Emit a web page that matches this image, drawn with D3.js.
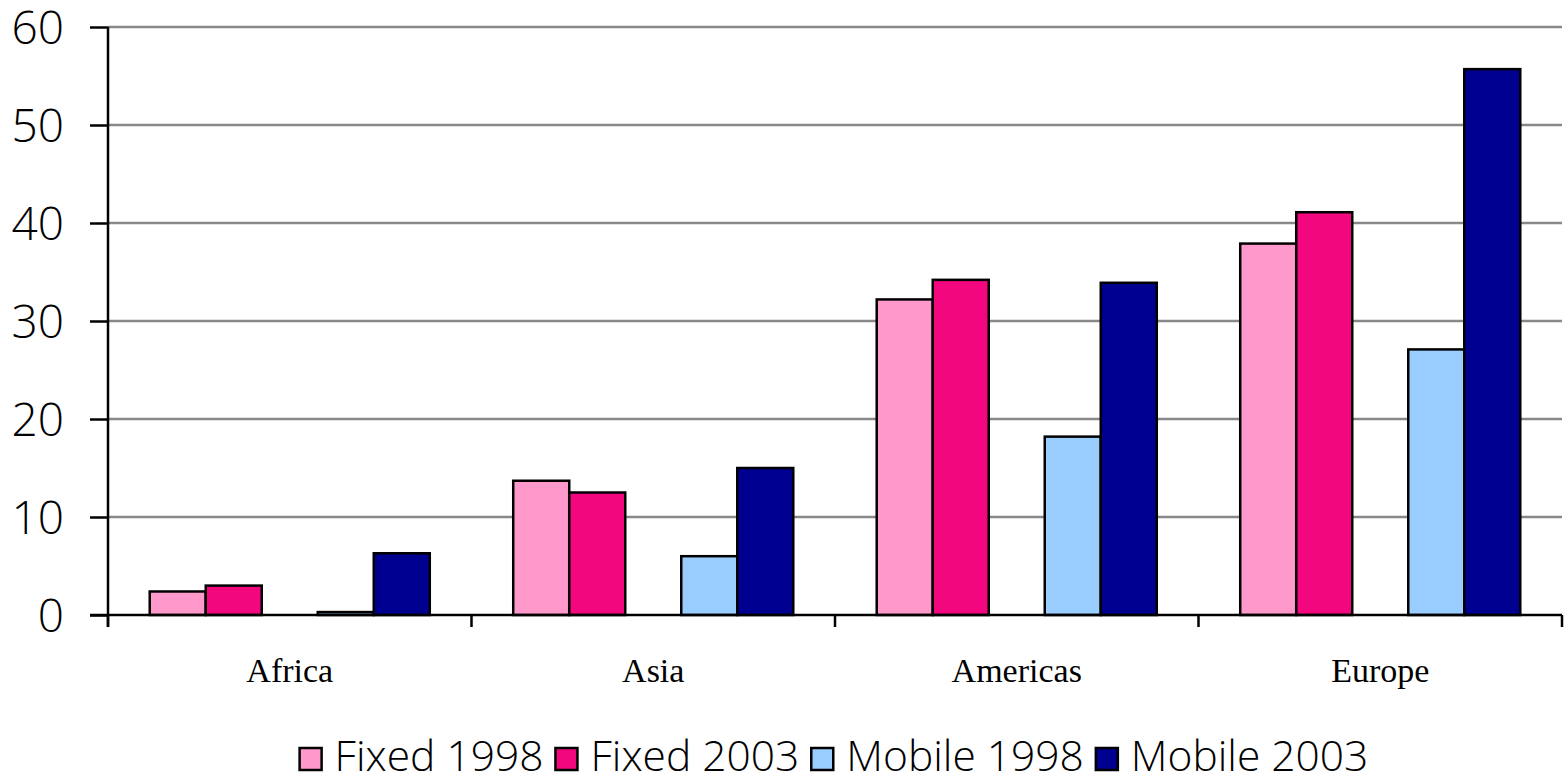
<!DOCTYPE html>
<html><head><meta charset="utf-8">
<script src="https://cdn.jsdelivr.net/npm/d3@7"></script>
<style>body{margin:0;background:#fff}svg{display:block}</style>
</head><body>
<svg id="c" width="1567" height="778"></svg>
<script>
const categories = ["Africa", "Asia", "Americas", "Europe"];
const seriesNames = ["Fixed 1998", "Fixed 2003", "Mobile 1998", "Mobile 2003"];
const fixed1998 = [2.4, 13.7, 32.2, 37.9];
const fixed2003 = [3.0, 12.5, 34.2, 41.1];
const mobile1998 = [0.3, 6.0, 18.2, 27.1];
const mobile2003 = [6.3, 15.0, 33.9, 55.7];
const yTicks = [0, 10, 20, 30, 40, 50, 60];
const colors = ["#FF99CC", "#F2077F", "#99CCFF", "#000090"];
const slots = [0, 1, 3, 4];
const seriesValues = [fixed1998, fixed2003, mobile1998, mobile2003];

const svg = d3.select("#c");
const L = 108, R = 1562, T = 27, B = 615;
const x = d3.scaleBand().domain(categories).range([L, R]).padding(0);
const xs = d3.scaleBand().domain([0,1,2,3,4]).range([0, x.bandwidth()]).paddingInner(0).paddingOuter(0.745);
const y = d3.scaleLinear().domain([0, 60]).range([B, T]);

const sans = "'Open Sans', 'DejaVu Sans', sans-serif";

// gridlines
svg.append("g").selectAll("line").data(yTicks.filter(d => d > 0)).join("line")
  .attr("x1", L).attr("x2", R).attr("y1", d => y(d)).attr("y2", d => y(d))
  .attr("stroke", "#888").attr("stroke-width", 2.5);

// bars
const g = svg.append("g");
seriesValues.forEach((vals, si) => {
  g.selectAll(null).data(vals).join("rect")
    .attr("x", (d, i) => x(categories[i]) + xs(slots[si]))
    .attr("width", xs.bandwidth())
    .attr("y", d => y(d))
    .attr("height", d => B - y(d))
    .attr("fill", colors[si])
    .attr("stroke", "#000").attr("stroke-width", 2.5);
});

// y axis
const yAxis = d3.axisLeft(y).tickValues(yTicks).tickSize(18).tickPadding(26).tickFormat(d3.format("d"));
const ya = svg.append("g").attr("transform", `translate(${L},0)`).call(yAxis);
ya.select(".domain").remove();
ya.selectAll(".tick line").attr("stroke", "#000").attr("stroke-width", 2.5);
ya.selectAll(".tick text").attr("font-family", sans).attr("font-weight", 300).attr("font-size", 46).attr("fill", "#000").attr("dy", "0.35em");
svg.append("line").attr("x1", L).attr("x2", L).attr("y1", T).attr("y2", B + 12).attr("stroke", "#000").attr("stroke-width", 2.5);

// x axis
svg.append("line").attr("x1", L - 18).attr("x2", R).attr("y1", B).attr("y2", B).attr("stroke", "#000").attr("stroke-width", 2.5);
const bounds = categories.map(c => x(c)).concat([R]);
svg.append("g").selectAll("line").data(bounds).join("line")
  .attr("x1", d => d).attr("x2", d => d).attr("y1", B).attr("y2", B + 12)
  .attr("stroke", "#000").attr("stroke-width", 2.5);
svg.append("g").selectAll("text").data(categories).join("text")
  .attr("x", d => x(d) + x.bandwidth() / 2).attr("y", 682)
  .attr("text-anchor", "middle").attr("font-family", "'Liberation Serif', 'Times New Roman', serif")
  .attr("font-size", 34).attr("fill", "#000").text(d => d);

// legend
const leg = svg.append("g");
const fs = 42.5, sq = 22, gapSq = 13, gapItem = 12;
let cx = 0;
seriesNames.forEach((n, i) => {
  const it = leg.append("g");
  it.append("rect").attr("x", 0).attr("y", -sq - 1).attr("width", sq).attr("height", sq)
    .attr("fill", colors[i]).attr("stroke", "#000").attr("stroke-width", 2.5);
  const t = it.append("text").attr("x", sq + gapSq).attr("y", 0).attr("font-family", sans)
    .attr("font-weight", 300).attr("font-size", fs).attr("fill", "#000").text(n);
  const w = t.node().getComputedTextLength();
  it.attr("transform", `translate(${cx},0)`);
  cx += sq + gapSq + w + gapItem;
});
const totalW = cx - gapItem;
leg.attr("transform", `translate(${(300 + 1368) / 2 - totalW / 2}, 771)`);
</script>
</body></html>
